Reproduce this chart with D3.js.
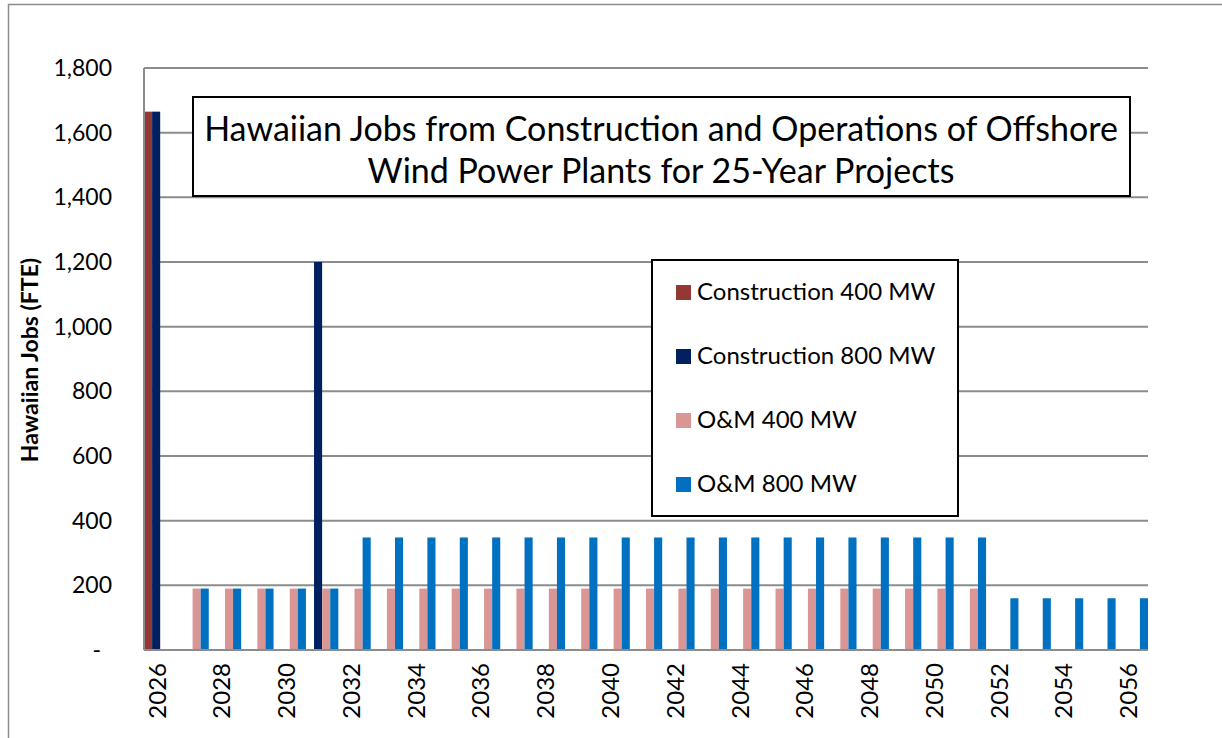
<!DOCTYPE html>
<html>
<head>
<meta charset="utf-8">
<script src="https://cdn.jsdelivr.net/npm/d3@7"></script>
<style>
  body { margin: 0; background: #fff; }
  svg { display: block; font-family: Lato, "Noto Sans", sans-serif; }
</style>
</head>
<body>
<svg id="app" width="1222" height="738"></svg>
<script>
const years = d3.range(2026, 2057)
const tickYears = years.filter(y => (y - 2026) % 2 === 0)
const yTicks = [0, 200, 400, 600, 800, 1000, 1200, 1400, 1600, 1800]

const seriesNames = ['Construction 400 MW', 'Construction 800 MW', 'O&M 400 MW', 'O&M 800 MW']
const seriesColors = ['#953735', '#002060', '#d99694', '#0070c0']

// one value per year, 2026..2056
const construction400 = [1665, 0, 0, 0, 0, 0, 0, 0, 0, 0, 0, 0, 0, 0, 0, 0, 0, 0, 0, 0, 0, 0, 0, 0, 0, 0, 0, 0, 0, 0, 0]
const construction800 = [1665, 0, 0, 0, 0, 1200, 0, 0, 0, 0, 0, 0, 0, 0, 0, 0, 0, 0, 0, 0, 0, 0, 0, 0, 0, 0, 0, 0, 0, 0, 0]
const om400 = [0, 190, 190, 190, 190, 190, 190, 190, 190, 190, 190, 190, 190, 190, 190, 190, 190, 190, 190, 190, 190, 190, 190, 190, 190, 190, 0, 0, 0, 0, 0]
const om800 = [0, 190, 190, 190, 190, 190, 348, 348, 348, 348, 348, 348, 348, 348, 348, 348, 348, 348, 348, 348, 348, 348, 348, 348, 348, 348, 160, 160, 160, 160, 160]
const seriesValues = [construction400, construction800, om400, om800]

const titleLines = ['Hawaiian Jobs from Construction and Operations of Offshore', 'Wind Power Plants for 25-Year Projects']

let svg = d3.select('#app')

const plotLeft = 144, plotRight = 1148, plotTop = 68, plotBottom = 650

// chart border
svg.append('rect')
.attr('x', 8.5).attr('y', 4.5)
.attr('width', 1222).attr('height', 760)
.attr('fill', 'white')
.attr('stroke', '#8c8c8c')
.attr('stroke-width', 1.5)

let x = d3.scaleBand().domain(years).range([plotLeft, plotRight]).padding(0)
let xs = d3.scaleBand().domain(d3.range(4)).range([0, x.bandwidth()]).padding(0)
let y = d3.scaleLinear().domain([0, 1800]).range([plotBottom, plotTop])

// gridlines
svg.append('g')
.selectAll('line')
.data(yTicks.filter(v => v > 0))
.enter()
.append('line')
.attr('x1', plotLeft).attr('x2', plotRight)
.attr('y1', d => y(d)).attr('y2', d => y(d))
.attr('stroke', '#8c8c8c')
.attr('stroke-width', 2)

// y labels
svg.append('g')
.selectAll('text')
.data(yTicks)
.enter()
.append('text')
.attr('x', d => d === 0 ? 101 : 112)
.attr('y', d => y(d))
.attr('dy', '0.35em')
.attr('text-anchor', 'end')
.attr('font-size', 23)
.text(d => d === 0 ? '-' : d3.format(',')(d))

// bars
let barG = svg.append('g')
seriesValues.forEach((vals, si) => {
  barG.append('g')
  .selectAll('rect')
  .data(vals.map((v, i) => ({year: years[i], v})).filter(d => d.v > 0))
  .enter()
  .append('rect')
  .attr('x', d => x(d.year) + xs(si))
  .attr('width', xs.bandwidth())
  .attr('y', d => y(d.v))
  .attr('height', d => y(0) - y(d.v))
  .attr('fill', seriesColors[si])
})

// axes lines
svg.append('line')
.attr('x1', plotLeft).attr('x2', plotLeft)
.attr('y1', plotTop).attr('y2', plotBottom)
.attr('stroke', '#8c8c8c').attr('stroke-width', 2)
svg.append('line')
.attr('x1', plotLeft).attr('x2', plotRight)
.attr('y1', plotBottom).attr('y2', plotBottom)
.attr('stroke', '#8c8c8c').attr('stroke-width', 2)

// x labels
svg.append('g')
.selectAll('text')
.data(tickYears)
.enter()
.append('text')
.attr('transform', d => `translate(${x(d) + x.bandwidth() / 2 - 3}, 663) rotate(-90)`)
.attr('text-anchor', 'end')
.attr('dy', '0.35em')
.attr('font-size', 24)
.text(d => d)

// y title
svg.append('text')
.attr('transform', 'translate(30, 360) rotate(-90)')
.attr('text-anchor', 'middle')
.attr('dy', '0.35em')
.attr('font-size', 23)
.attr('font-weight', 'bold')
.text('Hawaiian Jobs (FTE)')

// title box
svg.append('rect')
.attr('x', 193).attr('y', 97)
.attr('width', 937).attr('height', 99)
.attr('fill', 'white')
.attr('stroke', 'black')
.attr('stroke-width', 2)

svg.append('g')
.selectAll('text')
.data(titleLines)
.enter()
.append('text')
.attr('x', 661)
.attr('y', (d, i) => 141 + i * 42)
.attr('text-anchor', 'middle')
.attr('font-size', 34)
.text(d => d)

// legend
let legend = svg.append('g')
legend.append('rect')
.attr('x', 652).attr('y', 260)
.attr('width', 306).attr('height', 256)
.attr('fill', 'white')
.attr('stroke', 'black')
.attr('stroke-width', 2)

let items = legend.selectAll('g.item')
.data(seriesNames)
.enter()
.append('g')
.attr('class', 'item')
.attr('transform', (d, i) => `translate(676, ${292 + i * 64})`)

items.append('rect')
.attr('x', 0).attr('y', -7)
.attr('width', 15).attr('height', 15)
.attr('fill', (d, i) => seriesColors[i])

items.append('text')
.attr('x', 21)
.attr('y', 8)
.attr('font-size', 24)
.text(d => d)
</script>
</body>
</html>
